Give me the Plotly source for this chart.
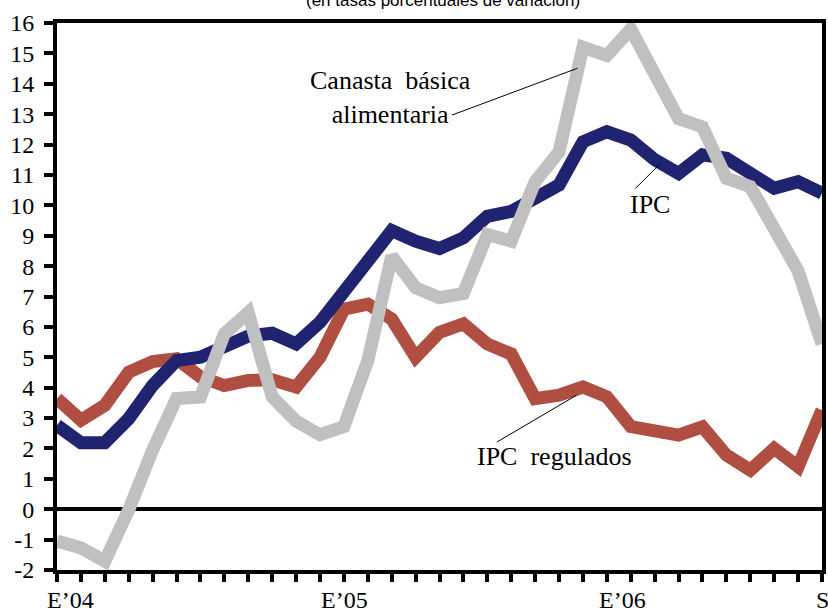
import plotly.graph_objects as go

# Months Jan-2004 .. Sep-2006 (index 0..32)
month_index = list(range(33))
x_label_pos = [0, 12, 24, 32]
x_label_text = ["E\u201904", "E\u201905", "E\u201906", "S"]

ipc = [2.76, 2.19, 2.19, 2.98, 4.07, 4.89, 5.0, 5.33, 5.7, 5.79, 5.44, 6.15,
       7.18, 8.11, 9.17, 8.82, 8.58, 8.93, 9.64, 9.8, 10.24, 10.67, 12.09, 12.42,
       12.15, 11.5, 11.05, 11.66, 11.55, 11.05, 10.56, 10.78, 10.4]
ipc_regulados = [3.64, 2.93, 3.42, 4.51, 4.86, 4.95, 4.35, 4.07, 4.24, 4.26, 4.02, 5.0,
                 6.58, 6.75, 6.26, 5.0, 5.82, 6.1, 5.44, 5.11, 3.64, 3.75, 4.02, 3.7,
                 2.72, 2.6, 2.44, 2.71, 1.78, 1.29, 2.0, 1.4, 3.26]
canasta = [-1.05, -1.27, -1.71, -0.02, 1.95, 3.64, 3.69, 5.77, 6.47, 3.7, 2.9, 2.45,
           2.72, 4.89, 8.33, 7.29, 6.96, 7.1, 9.04, 8.82, 10.78, 11.76, 15.2, 14.93,
           15.8, 14.27, 12.85, 12.58, 10.89, 10.62, 9.15, 7.84, 5.44]

y_ticks = list(range(-2, 17))

RED = "#B04E42"
BLUE = "#1F2370"
GRAY = "#C0C0C0"
SERIF = "Times New Roman, Liberation Serif, DejaVu Serif, serif"

fig = go.Figure()
fig.add_trace(go.Scatter(x=month_index, y=ipc_regulados, mode="lines",
                         line=dict(color=RED, width=13), name="IPC regulados"))
fig.add_trace(go.Scatter(x=month_index, y=ipc, mode="lines",
                         line=dict(color=BLUE, width=13), name="IPC"))
fig.add_trace(go.Scatter(x=month_index, y=canasta, mode="lines",
                         line=dict(color=GRAY, width=13), name="Canasta básica alimentaria"))

fig.update_xaxes(
    range=[0, 32], tickmode="array", tickvals=month_index,
    ticktext=["" for _ in month_index],
    ticks="outside", ticklen=8, tickwidth=4, tickcolor="black",
    showline=True, linecolor="black", linewidth=4, mirror=True,
    showgrid=False, zeroline=False, automargin=False,
)
fig.update_yaxes(
    range=[-2, 16], tickmode="array", tickvals=y_ticks,
    ticktext=[str(v) for v in y_ticks],
    ticks="outside", ticklen=9, tickwidth=4, tickcolor="black",
    showline=True, linecolor="black", linewidth=4, mirror=True,
    showgrid=False, zeroline=True, zerolinecolor="black", zerolinewidth=4,
    automargin=False, ticklabelstandoff=5,
    tickfont=dict(family=SERIF, size=24, color="black"),
)

# x-axis category labels
x_shifts = {0: 13, 12: 1, 24: -8, 32: 0}
for pos, txt in zip(x_label_pos, x_label_text):
    fig.add_annotation(x=pos, y=0, xref="x", yref="paper", yanchor="top",
                       yshift=-15, xshift=x_shifts[pos], text=txt, showarrow=False,
                       font=dict(family=SERIF, size=24, color="black"))

ann_font = dict(family=SERIF, size=26, color="black")
fig.add_annotation(x=13.94, y=13.56, text="Canasta&nbsp;&nbsp;básica<br>alimentaria",
                   showarrow=False, font=ann_font, align="center")
fig.add_annotation(x=24.81, y=10.03, text="IPC", showarrow=False, font=ann_font)
fig.add_annotation(x=20.81, y=1.75, text="IPC&nbsp;&nbsp;regulados", showarrow=False, font=ann_font)

line_style = dict(color="black", width=1)
fig.add_shape(type="line", x0=16.52, y0=12.97, x1=21.77, y1=14.51, line=line_style)
fig.add_shape(type="line", x0=24.19, y0=10.55, x1=25.19, y1=11.34, line=line_style)
fig.add_shape(type="line", x0=18.40, y0=2.21, x1=21.73, y1=3.75, line=line_style)

fig.add_annotation(xref="paper", yref="paper", x=0.505, y=1, yanchor="middle", yshift=23,
                   text="(en tasas porcentuales de variación)", showarrow=False,
                   font=dict(family="Liberation Sans", size=17, color="black"))

fig.update_layout(
    width=828, height=610,
    margin=dict(l=57, r=6, t=22.5, b=40, autoexpand=False),
    paper_bgcolor="white", plot_bgcolor="white",
    showlegend=False,
)

fig.write_html(
    "out.html",
    config={"displayModeBar": False},
    post_script="document.body.style.margin='0';document.body.style.overflow='hidden';",
)
